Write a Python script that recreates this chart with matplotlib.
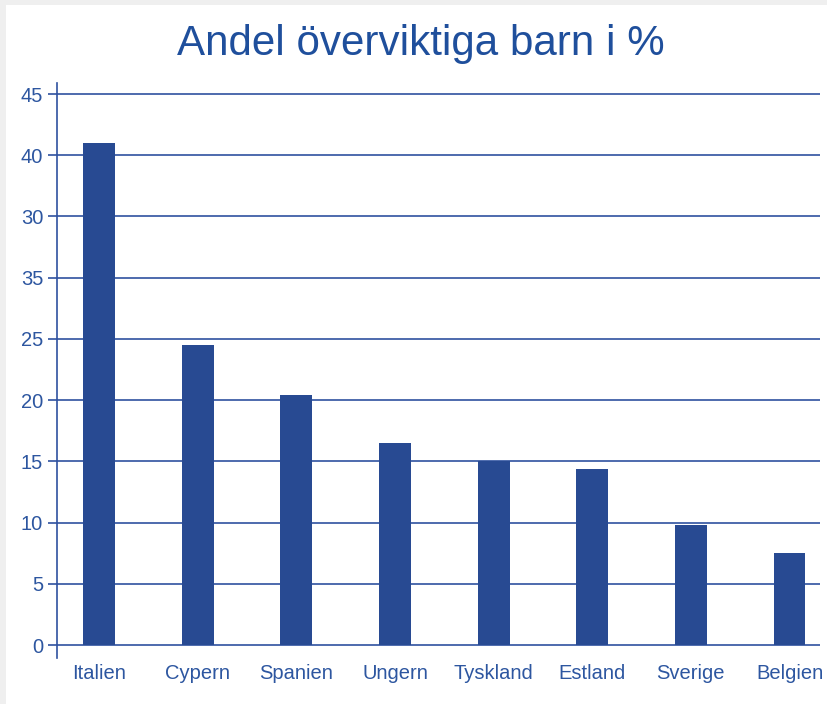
import matplotlib.pyplot as plt
from matplotlib.patches import Rectangle

# Data
countries = ["Italien", "Cypern", "Spanien", "Ungern", "Tyskland", "Estland", "Sverige", "Belgien"]
shares = [41.0, 24.5, 20.4, 16.5, 15.0, 14.4, 9.8, 7.5]
ytick_values = [0, 5, 10, 15, 20, 25, 30, 35, 40, 45]
# the original chart has 30 and 35 swapped
ytick_labels = ["0", "5", "10", "15", "20", "25", "35", "30", "40", "45"]

BAR_COLOR = "#284a92"
LINE_COLOR = "#2f51a0"
TEXT_COLOR = "#2d56a0"

plt.rcParams['font.family'] = ['Liberation Sans', 'DejaVu Sans']

fig = plt.figure(figsize=(8.28, 7.04), dpi=100)
fig.patch.set_facecolor("white")
# thin grey strips along the left and top edge
fig.patches.append(Rectangle((0, 0), 6 / 828, 1, transform=fig.transFigure,
                             facecolor="#efefef", edgecolor="none"))
fig.patches.append(Rectangle((0, 1 - 5 / 704), 1, 5 / 704, transform=fig.transFigure,
                             facecolor="#efefef", edgecolor="none"))

ax = fig.add_axes([57 / 828, 1 - 658 / 704, (820 - 57) / 828, (658 - 83) / 704])
ax.set_facecolor("none")

x = list(range(len(countries)))
ax.bar(x, shares, width=0.324, color=BAR_COLOR, zorder=3)

for v in ytick_values:
    ax.axhline(v, color=LINE_COLOR, linewidth=1.2, zorder=2)

ax.set_xlim(-0.426, 7.309)
ax.set_ylim(-1.06, 45.9)

ax.set_yticks(ytick_values)
ax.set_yticklabels(ytick_labels)
ax.set_xticks(x)
ax.set_xticklabels(countries)

ax.tick_params(axis="y", direction="out", length=6.5, width=1.2, color=LINE_COLOR,
               labelcolor=TEXT_COLOR, labelsize=14.5, pad=3.5)
ax.tick_params(axis="x", length=0, labelcolor=TEXT_COLOR, labelsize=14.5, pad=4)

for side in ["top", "right", "bottom"]:
    ax.spines[side].set_visible(False)
ax.spines["left"].set_color(LINE_COLOR)
ax.spines["left"].set_linewidth(1.2)

fig.text(0.508, 1 - 44 / 704, "Andel överviktiga barn i %", ha="center", va="center",
         fontsize=30.3, color="#1f4f9c")

fig.savefig("out.png", dpi=100)
